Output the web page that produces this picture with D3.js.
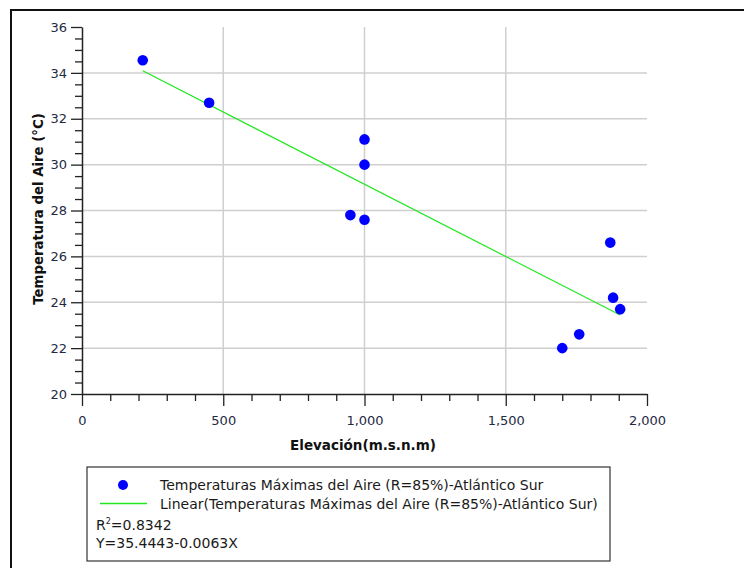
<!DOCTYPE html>
<html>
<head>
<meta charset="utf-8">
<script src="https://cdn.jsdelivr.net/npm/d3@7"></script>
<style>
  html, body { margin: 0; padding: 0; background: #fff; }
  svg { display: block; }
  text { font-family: "DejaVu Sans", Verdana, sans-serif; }
</style>
</head>
<body>
<svg id="chart" width="744" height="568"></svg>
<script>
// ---- data ----
const elevation = [215, 450, 1000, 1000, 950, 1000, 1700, 1760, 1870, 1880, 1905];
const tmax      = [34.55, 32.7, 31.1, 30.0, 27.8, 27.6, 22.0, 22.6, 26.6, 24.2, 23.7];
const xMajorTicks = [0, 500, 1000, 1500, 2000];
const yMajorTicks = [20, 22, 24, 26, 28, 30, 32, 34, 36];
const xGridTicks = [500, 1000, 1500];
const yGridTicks = [22, 24, 26, 28, 30, 32, 34];
const fitIntercept = 35.4443;
const fitSlope = -0.0063;
const r2 = 0.8342;
const seriesName = "Temperaturas Máximas del Aire (R=85%)-Atlántico Sur";
const xTitle = "Elevación(m.s.n.m)";
const yTitle = "Temperatura del Aire (°C)";

const svg = d3.select("#chart");

// outer frame (continues past right/bottom edges)
svg.append("rect").attr("x", 11).attr("y", 10).attr("width", 760).attr("height", 600)
  .attr("fill", "none").attr("stroke", "#111").attr("stroke-width", 2);

const x = d3.scaleLinear().domain([0, 2000]).range([82, 647]);
const y = d3.scaleLinear().domain([20, 36]).range([394, 27]);

// grid
svg.append("g").selectAll("line").data(yGridTicks).join("line")
  .attr("x1", x(0)).attr("x2", x(2000))
  .attr("y1", d => y(d)).attr("y2", d => y(d))
  .attr("stroke", "#cfcfcf").attr("stroke-width", 1.5);
svg.append("g").selectAll("line").data(xGridTicks).join("line")
  .attr("x1", d => x(d)).attr("x2", d => x(d))
  .attr("y1", y(36)).attr("y2", y(20))
  .attr("stroke", "#cfcfcf").attr("stroke-width", 1.5);

const axisColor = "#222";
const tickText = "#1f2a44";

// x axis minor
const xMinor = d3.range(0, 2001, 100).filter(v => v % 500 !== 0);
svg.append("g").attr("transform", `translate(0,${y(20)})`)
  .call(d3.axisBottom(x).tickValues(xMinor).tickSize(7).tickSizeOuter(0).tickFormat(""))
  .call(g => g.select(".domain").remove())
  .call(g => g.selectAll("line").attr("stroke", axisColor).attr("stroke-width", 1.3));
// x axis major
svg.append("g").attr("transform", `translate(0,${y(20)})`)
  .call(d3.axisBottom(x).tickValues(xMajorTicks).tickSize(12).tickSizeOuter(0).tickPadding(10).tickFormat(d3.format(",")))
  .call(g => g.select(".domain").attr("stroke", axisColor).attr("stroke-width", 1.5))
  .call(g => g.selectAll("line").attr("stroke", axisColor).attr("stroke-width", 1.3))
  .call(g => g.selectAll("text").attr("font-size", 13).attr("fill", tickText)
     .attr("font-family", '"DejaVu Sans", Verdana, sans-serif'));

// y axis minor
const yMinor = d3.range(20, 36.01, 0.5).filter(v => v % 2 !== 0);
svg.append("g").attr("transform", `translate(${x(0)},0)`)
  .call(d3.axisLeft(y).tickValues(yMinor).tickSize(7).tickSizeOuter(0).tickFormat(""))
  .call(g => g.select(".domain").remove())
  .call(g => g.selectAll("line").attr("stroke", axisColor).attr("stroke-width", 1.3));
// y axis major
svg.append("g").attr("transform", `translate(${x(0)},0)`)
  .call(d3.axisLeft(y).tickValues(yMajorTicks).tickSize(11).tickSizeOuter(0).tickPadding(4).tickFormat(d3.format("d")))
  .call(g => g.select(".domain").attr("stroke", axisColor).attr("stroke-width", 1.5))
  .call(g => g.selectAll("line").attr("stroke", axisColor).attr("stroke-width", 1.3))
  .call(g => g.selectAll("text").attr("font-size", 13).attr("fill", tickText)
     .attr("font-family", '"DejaVu Sans", Verdana, sans-serif'));

// axis titles
svg.append("text").attr("x", 363).attr("y", 450).attr("text-anchor", "middle")
  .attr("font-size", 13.5).attr("font-weight", "bold").attr("fill", "#111").text(xTitle);
svg.append("text").attr("transform", `translate(43,209) rotate(-90)`).attr("text-anchor", "middle")
  .attr("font-size", 13.3).attr("font-weight", "bold").attr("fill", "#111").text(yTitle);

// regression line
const xMin = d3.min(elevation), xMax = d3.max(elevation);
const fit = v => fitIntercept + fitSlope * v;
svg.append("line")
  .attr("x1", x(xMin)).attr("y1", y(fit(xMin)))
  .attr("x2", x(xMax)).attr("y2", y(fit(xMax)))
  .attr("stroke", "#22e822").attr("stroke-width", 1.2);

// points
svg.append("g").selectAll("circle").data(elevation.map((e, i) => [e, tmax[i]])).join("circle")
  .attr("cx", d => x(d[0])).attr("cy", d => y(d[1])).attr("r", 5.3)
  .attr("fill", "#0000ff");

// legend
const lg = svg.append("g");
lg.append("rect").attr("x", 87).attr("y", 467).attr("width", 523).attr("height", 94)
  .attr("fill", "#fff").attr("stroke", "#333").attr("stroke-width", 1.2);
lg.append("circle").attr("cx", 123).attr("cy", 485).attr("r", 5).attr("fill", "#0000ff");
lg.append("line").attr("x1", 100).attr("x2", 147).attr("y1", 503.5).attr("y2", 503.5)
  .attr("stroke", "#22e822").attr("stroke-width", 1.5);
const lfs = 14;
lg.append("text").attr("x", 160).attr("y", 490).attr("font-size", lfs).attr("fill", "#1a1a1a").text(seriesName);
lg.append("text").attr("x", 160).attr("y", 509).attr("font-size", lfs).attr("fill", "#1a1a1a").text(`Linear(${seriesName})`);
const r2t = lg.append("text").attr("x", 96).attr("y", 530).attr("font-size", lfs).attr("fill", "#1a1a1a");
r2t.append("tspan").text("R");
r2t.append("tspan").attr("font-size", 8).attr("dy", -6).text("2");
r2t.append("tspan").attr("dy", 6).text("=" + r2);
lg.append("text").attr("x", 96).attr("y", 548).attr("font-size", lfs).attr("fill", "#1a1a1a")
  .text(`Y=${fitIntercept}${fitSlope}X`);
</script>
</body>
</html>
